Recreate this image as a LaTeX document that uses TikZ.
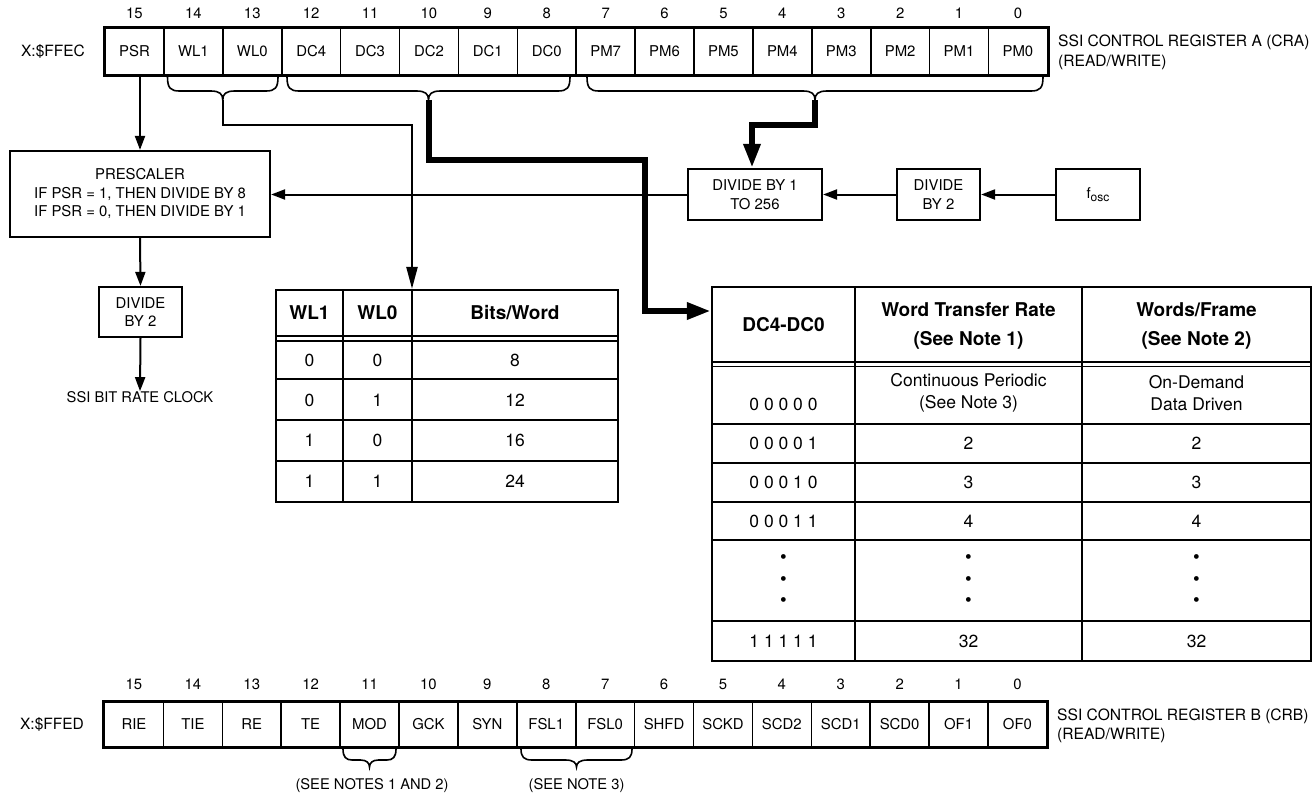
\documentclass[tikz,border=0pt]{standalone}
\usepackage{fontspec}
\setmainfont{TeX Gyre Heros}
\usetikzlibrary{arrows.meta}
% #1=x1, #2=x2, #3=ytop, #4=y of horizontal part, #5=ytip, #6=curl radius
\newcommand\regbrace[6]{%
  \draw[bracep] ({#1},{#3}) .. controls ({#1},{#4-3}) and ({#1+3},{#4}) .. ({#1+#6},{#4})
    -- ({(#1+#2)/2-#6},{#4}) .. controls ({(#1+#2)/2-3},{#4}) and ({(#1+#2)/2},{#4+3}) .. ({(#1+#2)/2},{#5})
    .. controls ({(#1+#2)/2},{#4+3}) and ({(#1+#2)/2+3},{#4}) .. ({(#1+#2)/2+#6},{#4})
    -- ({#2-#6},{#4}) .. controls ({#2-3},{#4}) and ({#2},{#4-3}) .. ({#2},{#3});}
\begin{document}
\begin{tikzpicture}[x=1pt,y=-1pt,
  base/.style={inner sep=0pt,font=\fontsize{14.7}{17}\selectfont},
  side/.style={inner sep=0pt,anchor=west,font=\fontsize{15.6}{18}\selectfont},
  regcell/.style={draw,line width=1.6pt,minimum width=58.9pt,inner sep=0pt,
    font=\fontsize{14.9}{17}\selectfont},
  bitnum/.style={inner sep=0pt,font=\fontsize{14.9}{17}\selectfont},
  blk/.style={draw,line width=2.2pt,inner sep=0pt,align=center,
    font=\fontsize{14.9}{18.5}\selectfont},
  conn/.style={line width=2pt,-{Triangle[length=14pt,width=10pt]}},
  wlconn/.style={line width=2.4pt,-{Triangle[length=22pt,width=11pt]}},
  thickconn/.style={line width=6pt,-{Triangle[length=24pt,width=16pt]}},
  bracep/.style={line width=1.6pt},
  tabframe/.style={draw,line width=2.2pt,inner sep=0pt},
  tabline/.style={line width=1.7pt},
  th/.style={inner sep=0pt,align=center,font=\bfseries\fontsize{19}{29}\selectfont},
  td/.style={inner sep=0pt,align=center,font=\fontsize{17.5}{22}\selectfont},
  dots/.style={inner sep=0pt,align=center,font=\fontsize{19}{21.5}\selectfont}
]
\useasboundingbox (0,0) rectangle (1314,797);

% ---------- Register A ----------
\foreach \t [count=\i from 0] in {PSR,WL1,WL0,DC4,DC3,DC2,DC1,DC0,PM7,PM6,PM5,PM4,PM3,PM2,PM1,PM0}{
  \pgfmathtruncatemacro\b{15-\i}
  \node[regcell,minimum height=47pt] (a\b) at ({105+58.9*\i+29.45},51.5) {\t};
  \node[bitnum] (na\b) at ({105+58.9*\i+29.45},13) {\b};
}
\draw[line width=2.6pt] (a15.north west) rectangle (a0.south east);
\node[base,font=\fontsize{15.5}{18}\selectfont] (xa) at (53,51.5) {X:\$FFEC};
\node[side] (cra1) at (1058,42) {SSI CONTROL REGISTER A (CRA)};
\node[side] (cra2) at (1058,62) {(READ/WRITE)};

% braces
\regbrace{167.5}{278}{77}{91}{100}{12}
\regbrace{287}{570}{77}{91}{100}{12}
\regbrace{587}{1043}{77}{91}{100}{12}
\coordinate (wltip) at (222.75,100);
\coordinate (dctip) at (428.5,100);
\coordinate (pmtip) at (815,100);

% ---------- clock blocks ----------
\node[blk,minimum width=260pt,minimum height=86pt] (presc) at (140,194)
  {PRESCALER\\IF PSR = 1, THEN DIVIDE BY 8\\IF PSR = 0, THEN DIVIDE BY 1};
\node[blk,minimum width=83pt,minimum height=50pt] (divclk) at (140.5,312) {DIVIDE\\BY 2};
\node[base] (clk) at (140,397) {SSI BIT RATE CLOCK};
\node[blk,minimum width=134pt,minimum height=51pt] (div256) at (755,194.5) {DIVIDE BY 1\\TO 256};
\node[blk,minimum width=83pt,minimum height=51pt] (div2) at (938.5,194.5) {DIVIDE\\BY 2};
\node[blk,minimum width=84pt,minimum height=51pt] (fosc) at (1098,194.5)
  {f\raisebox{-3.5pt}{\fontsize{12}{12}\selectfont osc}};

\draw[conn] (a15.south -| presc.north) -- (presc.north);
\draw[conn] (presc.south) -- (divclk.north);
\draw[conn] (divclk.south) -- (clk.north);
\draw[conn] (fosc.west) -- (div2.east);
\draw[conn] (div2.west) -- (div256.east);
\draw[conn] (div256.west) -- (div256.west -| presc.east);

% ---------- WL table ----------
\node[tabframe,minimum width=342pt,minimum height=212pt] (wltab) at (447,396) {};
\draw[tabline] (343,290) -- (343,502) (412,290) -- (412,502);
\draw[tabline,line width=1.4pt] (276,336) -- (618,336) (276,341) -- (618,341);
\draw[tabline] (276,379) -- (618,379) (276,420) -- (618,420) (276,461) -- (618,461);
\node[th] (wlh1) at (309.5,313) {WL1};
\node[th] (wlh2) at (377.5,313) {WL0};
\node[th] (wlh3) at (515,313) {Bits/Word};
\foreach \p/\q/\r/\y [count=\k] in {0/0/8/360,0/1/12/400,1/0/16/440,1/1/24/481}{
  \node[td] (wlr\k a) at (309.5,\y) {\p};
  \node[td] (wlr\k b) at (377.5,\y) {\q};
  \node[td] (wlr\k c) at (515,\y) {\r};
}

% ---------- DC table ----------
\node[tabframe,minimum width=599pt,minimum height=374pt] (dctab) at (1011.5,474) {};
\draw[tabline] (855,287) -- (855,661) (1082,287) -- (1082,661);
\draw[tabline,line width=1.4pt] (712,362) -- (1311,362) (712,366.5) -- (1311,366.5);
\draw[tabline] (712,424) -- (1311,424) (712,463) -- (1311,463) (712,502) -- (1311,502)
  (712,540) -- (1311,540) (712,621) -- (1311,621);
\node[th] (dch1) at (783.5,325) {DC4-DC0};
\node[th] (dch2) at (968.5,325.5) {Word Transfer Rate\\(See Note 1)};
\node[th] (dch3) at (1196.5,325.5) {Words/Frame\\(See Note 2)};
\node[td] (dc0a) at (783.5,404) {0 0 0 0 0};
\node[td] (dc0b) at (968.5,393) {Continuous Periodic\\(See Note 3)};
\node[td] (dc0c) at (1196.5,393) {On-Demand\\Data Driven};
\foreach \c/\v/\y [count=\k] in {0 0 0 0 1/2/443,0 0 0 1 0/3/482,0 0 0 1 1/4/521,1 1 1 1 1/32/641}{
  \node[td] (dcr\k a) at (783.5,\y) {\c};
  \node[td] (dcr\k b) at (968.5,\y) {\v};
  \node[td] (dcr\k c) at (1196.5,\y) {\v};
}
\node[dots] (dcd1) at (783.5,581) {•\\•\\•};
\node[dots] (dcd2) at (968.5,581) {•\\•\\•};
\node[dots] (dcd3) at (1196.5,581) {•\\•\\•};

% ---------- routed connectors ----------
\coordinate (wlbend) at (412,125);
\draw[wlconn] (wltip) |- (wlbend) -- (wlbend |- wltab.north);
\coordinate (dcb1) at (645,160);
\coordinate (dcb2) at (645,311);
\draw[thickconn] (dctip) |- (dcb1) -- (dcb2) -- (dcb2 -| dctab.west);
\coordinate (pmb) at (752,125);
\draw[thickconn] (pmtip) |- (pmb) -- (pmb |- div256.north);

% ---------- Register B ----------
\foreach \t [count=\i from 0] in {RIE,TIE,RE,TE,MOD,GCK,SYN,FSL1,FSL0,SHFD,SCKD,SCD2,SCD1,SCD0,OF1,OF0}{
  \pgfmathtruncatemacro\b{15-\i}
  \node[regcell,minimum height=44pt] (b\b) at ({104.5+58.9*\i+29.45},724.5) {\t};
  \node[bitnum] (nb\b) at ({104.5+58.9*\i+29.45},684) {\b};
}
\draw[line width=2.6pt] (b15.north west) rectangle (b0.south east);
\node[base,font=\fontsize{15.5}{18}\selectfont] (xb) at (52,724.5) {X:\$FFED};
\node[side] (crb1) at (1057,716) {SSI CONTROL REGISTER B (CRB)};
\node[side] (crb2) at (1057,735) {(READ/WRITE)};
\regbrace{343}{396}{749}{760}{767}{9}
\regbrace{521}{632}{749}{760}{767}{11}
\node[base] (note12) at (372,786) {(SEE NOTES 1 AND 2)};
\node[base] (note3) at (576.5,786) {(SEE NOTE 3)};
\end{tikzpicture}
\end{document}
